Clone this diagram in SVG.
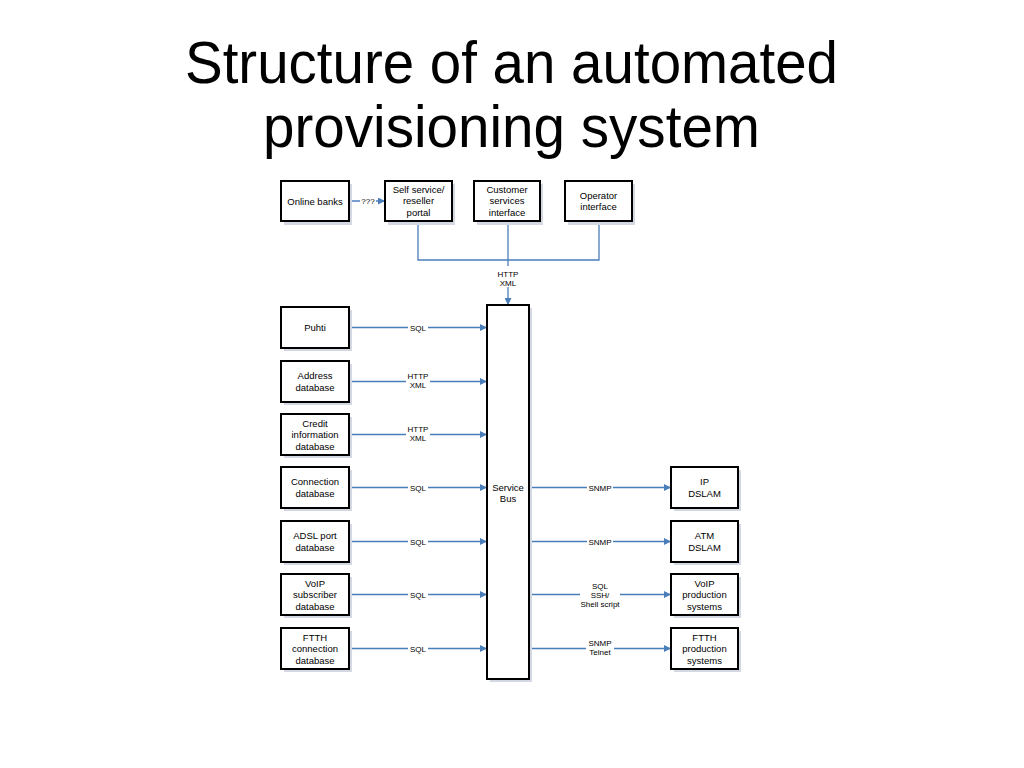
<svg xmlns="http://www.w3.org/2000/svg" width="1024" height="768" viewBox="0 0 1024 768">
<defs>
<marker id="arr" viewBox="0 0 10 10" refX="10" refY="5" markerWidth="8" markerHeight="7" markerUnits="userSpaceOnUse" orient="auto">
<path d="M0,0 L10,5 L0,10 z" fill="#4a7ebb"/>
</marker>
</defs>
<style>
.box{fill:#ffffff;stroke:#000000;stroke-width:2}
.sh{fill:#d3d8e2;stroke:none}
.t{font-family:"Liberation Sans",Arial,sans-serif;font-size:9.5px;fill:#000;text-anchor:middle}
.l{font-family:"Liberation Sans",Arial,sans-serif;font-size:8px;fill:#000;text-anchor:middle}
.c{stroke:#4a7ebb;stroke-width:1.3;fill:none}
.lb{fill:#ffffff}
.title{font-family:"Liberation Sans",Arial,sans-serif;font-size:59px;fill:#000;text-anchor:middle}
</style>
<rect width="1024" height="768" fill="#ffffff"/>
<text class="title" x="511.5" y="83" textLength="653" lengthAdjust="spacingAndGlyphs">Structure of an automated</text>
<text class="title" x="511.5" y="147" textLength="497" lengthAdjust="spacingAndGlyphs">provisioning system</text>

<g id="connectors">
<line class="c" x1="349" y1="201" x2="385" y2="201" marker-end="url(#arr)"/>
<rect class="lb" x="360" y="196" width="16" height="9"/>
<text class="l" x="368" y="204">???</text>
<polyline class="c" points="418,221 418,260 599,260 599,221"/>
<line class="c" x1="508" y1="221" x2="508" y2="305" marker-end="url(#arr)"/>
<rect class="lb" x="496" y="266" width="24" height="21"/>
<text class="l" x="508" y="277">HTTP</text>
<text class="l" x="508" y="286">XML</text>

<line class="c" x1="349" y1="327.5" x2="487" y2="327.5" marker-end="url(#arr)"/>
<rect class="lb" x="408" y="323" width="20" height="9"/>
<text class="l" x="418" y="330.5">SQL</text>
<line class="c" x1="349" y1="381.5" x2="487" y2="381.5" marker-end="url(#arr)"/>
<rect class="lb" x="406" y="371" width="24" height="19"/>
<text class="l" x="418" y="379">HTTP</text>
<text class="l" x="418" y="388">XML</text>
<line class="c" x1="349" y1="434.5" x2="487" y2="434.5" marker-end="url(#arr)"/>
<rect class="lb" x="406" y="424" width="24" height="19"/>
<text class="l" x="418" y="432">HTTP</text>
<text class="l" x="418" y="441">XML</text>
<line class="c" x1="349" y1="487.5" x2="487" y2="487.5" marker-end="url(#arr)"/>
<rect class="lb" x="408" y="483" width="20" height="9"/>
<text class="l" x="418" y="490.5">SQL</text>
<line class="c" x1="349" y1="541.5" x2="487" y2="541.5" marker-end="url(#arr)"/>
<rect class="lb" x="408" y="537" width="20" height="9"/>
<text class="l" x="418" y="544.5">SQL</text>
<line class="c" x1="349" y1="594.5" x2="487" y2="594.5" marker-end="url(#arr)"/>
<rect class="lb" x="408" y="590" width="20" height="9"/>
<text class="l" x="418" y="597.5">SQL</text>
<line class="c" x1="349" y1="648.5" x2="487" y2="648.5" marker-end="url(#arr)"/>
<rect class="lb" x="408" y="644" width="20" height="9"/>
<text class="l" x="418" y="651.5">SQL</text>

<line class="c" x1="529" y1="487.5" x2="671" y2="487.5" marker-end="url(#arr)"/>
<rect class="lb" x="587" y="483" width="26" height="9"/>
<text class="l" x="600" y="490.5">SNMP</text>
<line class="c" x1="529" y1="541.5" x2="671" y2="541.5" marker-end="url(#arr)"/>
<rect class="lb" x="587" y="537" width="26" height="9"/>
<text class="l" x="600" y="544.5">SNMP</text>
<line class="c" x1="529" y1="594.5" x2="671" y2="594.5" marker-end="url(#arr)"/>
<rect class="lb" x="580" y="581" width="40" height="28"/>
<text class="l" x="600" y="589">SQL</text>
<text class="l" x="600" y="597.5">SSH/</text>
<text class="l" x="600" y="606.5">Shell script</text>
<line class="c" x1="529" y1="648.5" x2="671" y2="648.5" marker-end="url(#arr)"/>
<rect class="lb" x="586" y="638" width="28" height="19"/>
<text class="l" x="600" y="646">SNMP</text>
<text class="l" x="600" y="655">Telnet</text>
</g>

<g id="online-banks">
<rect class="sh" x="284" y="184" width="68" height="41"/>
<rect class="box" x="281" y="181" width="68" height="40"/>
<text class="t" x="315" y="204.5">Online banks</text>
</g>
<g id="self-service">
<rect class="sh" x="388" y="184" width="67" height="41"/>
<rect class="box" x="385" y="181" width="67" height="40"/>
<text class="t" x="418.5" y="192.5">Self service/</text>
<text class="t" x="418.5" y="204">reseller</text>
<text class="t" x="418.5" y="215.5">portal</text>
</g>
<g id="customer-services">
<rect class="sh" x="477" y="184" width="66" height="41"/>
<rect class="box" x="474" y="181" width="66" height="40"/>
<text class="t" x="507" y="192.5">Customer</text>
<text class="t" x="507" y="204">services</text>
<text class="t" x="507" y="215.5">interface</text>
</g>
<g id="operator">
<rect class="sh" x="568" y="184" width="67" height="41"/>
<rect class="box" x="565" y="181" width="67" height="40"/>
<text class="t" x="598.5" y="198.5">Operator</text>
<text class="t" x="598.5" y="210">interface</text>
</g>

<g id="service-bus">
<rect class="sh" x="490" y="308" width="42" height="374"/>
<rect class="box" x="487" y="305" width="42" height="374"/>
<text class="t" x="508" y="490.5">Service</text>
<text class="t" x="508" y="502">Bus</text>
</g>

<g id="puhti">
<rect class="sh" x="284" y="310" width="68" height="41"/>
<rect class="box" x="281" y="307" width="68" height="41"/>
<text class="t" x="315" y="331">Puhti</text>
</g>
<g id="address-db">
<rect class="sh" x="284" y="364" width="68" height="41"/>
<rect class="box" x="281" y="361" width="68" height="41"/>
<text class="t" x="315" y="379">Address</text>
<text class="t" x="315" y="390.5">database</text>
</g>
<g id="credit-db">
<rect class="sh" x="284" y="417" width="68" height="41"/>
<rect class="box" x="281" y="414" width="68" height="41"/>
<text class="t" x="315" y="426.5">Credit</text>
<text class="t" x="315" y="438">information</text>
<text class="t" x="315" y="449.5">database</text>
</g>
<g id="connection-db">
<rect class="sh" x="284" y="470" width="68" height="41"/>
<rect class="box" x="281" y="467" width="68" height="41"/>
<text class="t" x="315" y="485">Connection</text>
<text class="t" x="315" y="496.5">database</text>
</g>
<g id="adsl-db">
<rect class="sh" x="284" y="524" width="68" height="41"/>
<rect class="box" x="281" y="521" width="68" height="41"/>
<text class="t" x="315" y="539">ADSL port</text>
<text class="t" x="315" y="550.5">database</text>
</g>
<g id="voip-db">
<rect class="sh" x="284" y="577" width="68" height="41"/>
<rect class="box" x="281" y="574" width="68" height="41"/>
<text class="t" x="315" y="586.5">VoIP</text>
<text class="t" x="315" y="598">subscriber</text>
<text class="t" x="315" y="609.5">database</text>
</g>
<g id="ftth-db">
<rect class="sh" x="284" y="631" width="68" height="41"/>
<rect class="box" x="281" y="628" width="68" height="41"/>
<text class="t" x="315" y="640.5">FTTH</text>
<text class="t" x="315" y="652">connection</text>
<text class="t" x="315" y="663.5">database</text>
</g>

<g id="ip-dslam">
<rect class="sh" x="674" y="470" width="67" height="41"/>
<rect class="box" x="671" y="467" width="67" height="41"/>
<text class="t" x="704.5" y="485">IP</text>
<text class="t" x="704.5" y="496.5">DSLAM</text>
</g>
<g id="atm-dslam">
<rect class="sh" x="674" y="524" width="67" height="41"/>
<rect class="box" x="671" y="521" width="67" height="41"/>
<text class="t" x="704.5" y="539">ATM</text>
<text class="t" x="704.5" y="550.5">DSLAM</text>
</g>
<g id="voip-prod">
<rect class="sh" x="674" y="577" width="67" height="41"/>
<rect class="box" x="671" y="574" width="67" height="41"/>
<text class="t" x="704.5" y="586.5">VoIP</text>
<text class="t" x="704.5" y="598">production</text>
<text class="t" x="704.5" y="609.5">systems</text>
</g>
<g id="ftth-prod">
<rect class="sh" x="674" y="631" width="67" height="41"/>
<rect class="box" x="671" y="628" width="67" height="41"/>
<text class="t" x="704.5" y="640.5">FTTH</text>
<text class="t" x="704.5" y="652">production</text>
<text class="t" x="704.5" y="663.5">systems</text>
</g>
</svg>
